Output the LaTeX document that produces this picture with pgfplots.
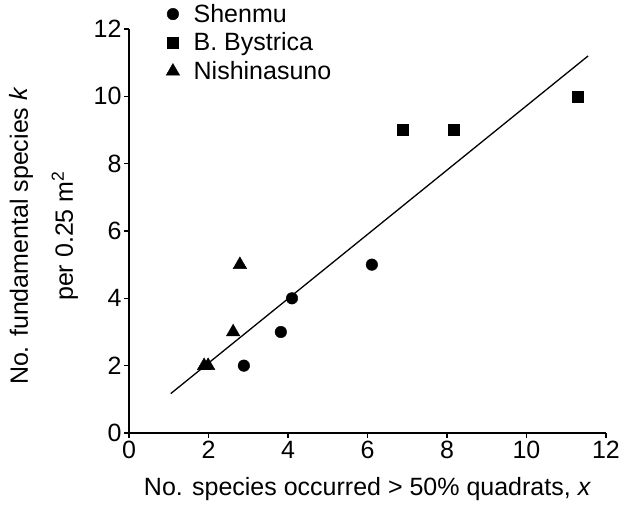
\documentclass[border=0pt]{standalone}
\usepackage{fontspec}
\setmainfont{Liberation Sans}
\usepackage{pgfplots}
\pgfplotsset{compat=1.18}
\begin{document}
\begin{tikzpicture}
\useasboundingbox (-129pt,-78pt) rectangle (504pt,433pt);
\begin{axis}[
  name=main,
  width=477pt, height=404pt, scale only axis,
  xmin=0, xmax=12, ymin=0, ymax=12,
  xtick={0,2,...,12}, ytick={0,2,...,12},
  axis lines*=left,
  tick align=outside,
  major tick length=5pt,
  axis line style={line width=1.3pt},
  every tick/.style={line width=1.1pt, black},
  clip=false,
  /pgf/number format/assume math mode=true,
  tick label style={font=\fontsize{25}{28}\selectfont},
  yticklabel style={xshift=1pt},
  xlabel={No. species occurred > 50\% quadrats, \textit{x}},
  xlabel style={font=\fontsize{25}{28}\selectfont, at={(axis description cs:0.5,0)}, anchor=center, yshift=-56pt},
  ylabel={No. fundamental species \textit{k}\\per 0.25 m\textsuperscript{2}},
  ylabel style={font=\fontsize{25}{45}\selectfont, align=center, at={(axis description cs:0,0.5)}, anchor=center, yshift=85pt, xshift=-5pt},
  legend cell align=left,
  legend style={draw=none, fill=none, at={(axis cs:0.93,12.80)}, anchor=north west,
    font=\fontsize{25}{28}\selectfont, row sep=5pt, inner sep=0pt,
    /tikz/every odd column/.append style={column sep=12pt}},
]
\addplot[only marks, mark=*, mark size=5.8pt, black] coordinates {
  (2.89,2) (3.82,3) (4.10,4) (6.11,5)
};
\addlegendentry{Shenmu}
\addplot[only marks, mark=square*, mark size=5.5pt, black] coordinates {
  (6.89,9) (8.18,9) (11.30,10)
};
\addlegendentry{B. Bystrica}
\addplot[only marks, mark=triangle*, mark size=7.8pt, black] coordinates {
  (1.89,2) (1.99,2) (2.62,3) (2.79,5)
};
\addlegendentry{Nishinasuno}
\addplot[black, line width=1.3pt, forget plot] coordinates {
  (1.05,1.17) (11.55,11.2)
};
\end{axis}
\end{tikzpicture}
\end{document}
